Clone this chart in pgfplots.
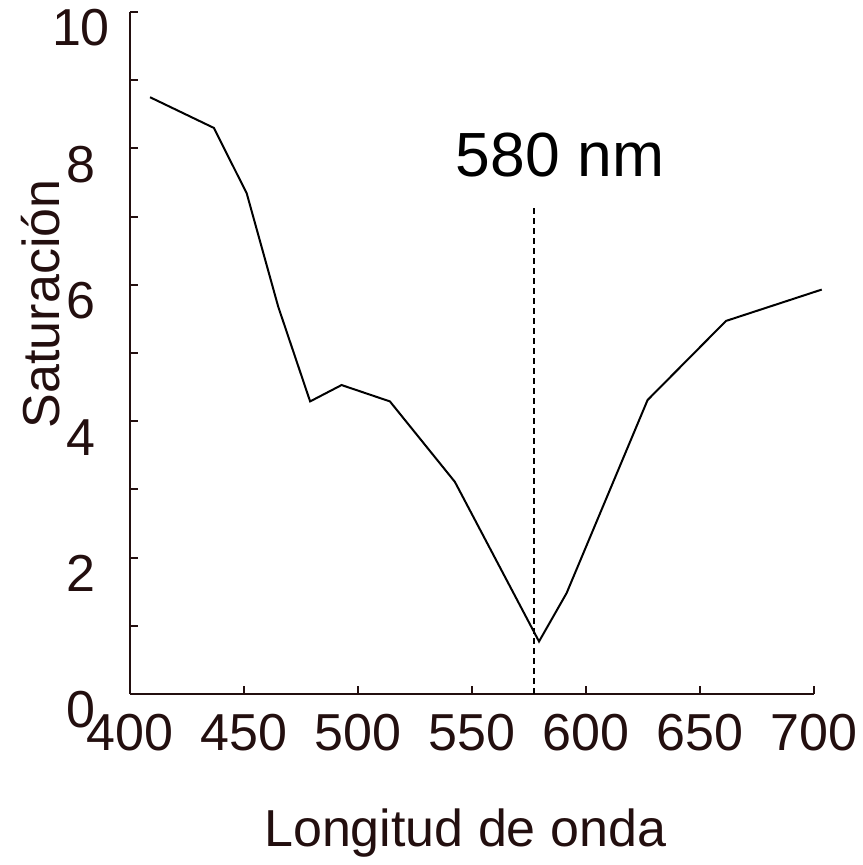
\documentclass[border=0pt]{standalone}
\usepackage{fontspec}
\setmainfont{Liberation Sans}
\usepackage{pgfplots}
\pgfplotsset{compat=1.18}
\definecolor{axiscol}{RGB}{35,15,15}
\begin{document}
\begin{tikzpicture}
\begin{axis}[
    width=171pt, height=170.5pt, scale only axis,
    xmin=400, xmax=700, ymin=0, ymax=10,
    clip=false,
    axis x line*=bottom, axis y line*=left,
    axis line style={axiscol, line width=0.6pt},
    xtick={400,450,...,700},
    ytick={0,2,...,10},
    minor ytick={1,3,...,9},
    tick align=inside,
    major tick length=2pt, minor tick length=2pt,
    tick style={axiscol, line width=0.5pt},
    /pgf/number format/assume math mode=true,
    tick label style={font=\fontsize{13}{15}\selectfont, text=axiscol},
    xticklabel style={yshift=-1.5pt},
    yticklabel style={anchor=center, xshift=-12.25pt, yshift=-4pt},
    xlabel={Longitud de onda},
    ylabel={Saturación},
    label style={font=\fontsize{13}{15}\selectfont, text=axiscol},
    xlabel style={at={(axis description cs:0.49,-0.2243)}, anchor=base},
    ylabel style={at={(axis description cs:-0.103,0.572)}, anchor=base},
]
\addplot[black, line width=0.5pt] coordinates {
    (408.8,8.75) (436.8,8.30) (451.2,7.34) (465,5.68) (479,4.29)
    (492.8,4.53) (514,4.29) (542.5,3.11) (579.4,0.77) (591.5,1.48)
    (627,4.31) (661.4,5.47) (703.4,5.93)
};
\addplot[black, line width=0.5pt, dash pattern=on 1.5pt off 1pt] coordinates {
    (577.3,0) (577.3,7.13)
};
\node[font=\fontsize{15.6}{18}\selectfont, anchor=center] at (axis cs:588.6,7.9) {580 nm};
\coordinate (O) at (rel axis cs:0,0);
\end{axis}
\pgfresetboundingbox
\useasboundingbox ([xshift=-32.5pt,yshift=-42.75pt]O) rectangle ++(215.75pt,216.25pt);
\end{tikzpicture}
\end{document}
